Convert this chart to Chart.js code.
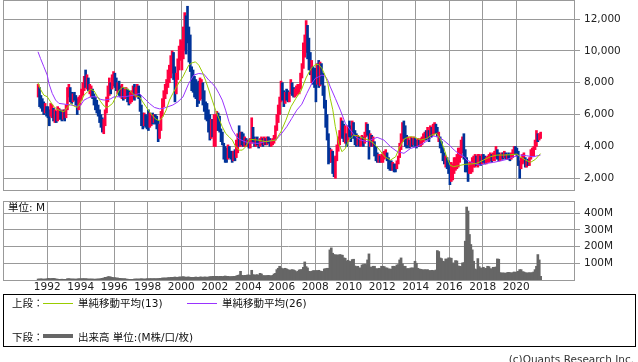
<!DOCTYPE html>
<html lang="ja">
<head>
<meta charset="utf-8">
<title>月足チャート</title>
<script src="https://cdn.jsdelivr.net/npm/chart.js@4.4.1/dist/chart.umd.min.js"></script>
<style>
    html, body { margin: 0; padding: 0; background: #fff; }
    body {
        width: 638px; height: 362px; position: relative; overflow: hidden;
        font-family: "DejaVu Sans", "Noto Sans CJK JP", sans-serif;
        font-size: 10.5px; color: #111;
    }
    .box { position: absolute; left: 0; width: 638px; }
    #priceBox { top: 0; height: 192px; }
    #volumeBox { top: 196px; height: 100px; }
    .txt { position: absolute; white-space: nowrap; line-height: 14px; }
    .swatch { position: absolute; left: 43px; width: 30px; }
    #legend {
        position: absolute; left: 3px; top: 294px; width: 633px; height: 53px;
        box-sizing: border-box; border: 1px solid #000;
    }
</style>
</head>
<body>
<div class="box" id="priceBox"><canvas id="priceChart"></canvas></div>
<div class="box" id="volumeBox"><canvas id="volumeChart"></canvas></div>
<div class="txt" style="left:8px; top:200px;">単位: M</div>

<div id="legend"></div>
<div class="txt" style="left:12px; top:296px;">上段：</div>
<div class="swatch" style="top:303px; height:1px; background:#99cc00;"></div>
<div class="txt" style="left:78px; top:296px;">単純移動平均(13)</div>
<div class="swatch" style="left:187px; top:303px; height:1px; background:#9933ff;"></div>
<div class="txt" style="left:222px; top:296px;">単純移動平均(26)</div>
<div class="txt" style="left:12px; top:330px;">下段：</div>
<div class="swatch" style="top:334px; height:4px; background:#666;"></div>
<div class="txt" style="left:78px; top:330px;">出来高 単位:(M株/口/枚)</div>

<div class="txt" style="right:4px; top:352px; color:#333;">(c)Quants Research Inc.</div>

<script>
// monthly bars, 1991/06 - 2021/06
const startYear = 1991;
const startMonth = 6;

const highs = [
    7900,7700,7200,7000,6800,6700,6500,                               // 1991
    6500,6300,6700,6600,6400,6300,6200,6500,6400,6300,6200,6300,      // 1992
    6300,6600,7700,7900,7700,7400,7300,7400,7200,7000,7100,7200,      // 1993
    7600,8000,8400,8800,8500,8300,7900,7800,7600,7300,7100,6900,      // 1994
    6600,6300,6000,5800,5700,6300,7100,7800,8300,8000,8500,8700,      // 1995
    8600,8300,8000,8100,7800,7900,7700,7600,7700,7600,7500,7400,      // 1996
    7500,7800,7900,7700,7900,7800,7200,6600,6100,6100,6000,5900,      // 1997
    6300,6100,6000,6100,6000,6000,5900,5600,5400,6200,7000,7500,      // 1998
    7900,8200,8800,9100,9700,10000,9900,9000,8600,9500,10300,10700,   // 1999
    10600,11500,12400,12200,12800,11500,11000,9000,8800,8400,8200,8000, // 2000
    8100,8300,8200,8000,7500,6800,6700,6300,6000,5700,5700,6000,      // 2001
    6000,6200,6100,5900,5100,4900,4200,4000,3900,4100,4000,3700,      // 2002
    3700,3700,3800,4400,4800,5300,4900,4900,4800,4600,4500,4400,      // 2003
    4400,4500,5800,5200,4600,4500,4600,4400,4500,4600,4500,4600,      // 2004
    4500,4600,4600,4500,4400,4500,4700,5300,6000,6600,7100,8100,      // 2005
    8000,7500,7400,7600,7500,7400,8200,8000,7700,7600,7800,7900,      // 2006
    7900,8600,9200,10500,11000,11900,11600,10800,9900,9400,9000,8900, // 2007
    8900,9200,9400,9300,9200,8600,7800,6900,6000,4800,3900,3800,      // 2008
    3700,3300,3400,4100,4600,5000,5800,5600,5400,5300,4800,5300,      // 2009
    5600,5300,5600,5500,5000,4800,4700,4600,4500,4700,4600,4900,      // 2010
    5500,5400,5000,4800,4700,4600,4300,4000,3600,3500,3400,3500,      // 2011
    3600,3700,3800,3600,3300,3100,3100,3000,2900,2900,3100,3400,      // 2012
    4200,4800,5500,5600,5300,4700,4600,4400,4600,4500,4600,4500,      // 2013
    4400,4500,4400,4500,4600,4800,4900,5000,5200,5000,5300,5200,      // 2014
    5400,5500,5400,5200,4900,4600,4300,3900,3600,3400,3300,3100,      // 2015
    2700,3000,2900,3300,3300,3500,3900,3900,4400,4600,4800,3800,      // 2016
    3300,2700,3000,3000,3300,3400,3500,3400,3500,3500,3400,3500,      // 2017
    3500,3400,3300,3400,3500,3600,3500,3600,3700,4000,3800,3600,      // 2018
    3500,3600,3600,3700,3600,3500,3600,3500,3600,3800,4000,4000,      // 2019
    3900,3700,3100,3300,3500,3600,3300,3100,3200,3300,3800,3900,      // 2020
    4000,4400,5000,4800,4800,4900                                     // 2021
];

const lows = [
    7100,6500,6400,6200,6000,6100,5900,                               // 1991
    5800,5300,5900,5800,5600,5500,5500,5600,5700,5700,5600,5700,      // 1992
    5600,5800,6300,7100,6800,6700,6800,6900,6600,6000,6300,6600,      // 1993
    6900,7200,7500,7700,7600,7500,7300,7100,7000,6600,6300,6100,      // 1994
    5900,5500,5200,4900,4800,5300,6100,6800,7200,7300,7600,7800,      // 1995
    7700,7500,7300,7200,7100,7000,6900,7000,7100,6800,6600,6700,      // 1996
    6800,7000,6900,7100,7200,7000,6200,5300,5100,5300,5200,5100,      // 1997
    5000,5200,5300,5400,5500,5400,5100,4300,4500,5000,5900,6500,      // 1998
    7000,7300,7700,8000,8300,8600,8200,6800,7300,8200,8800,9400,      // 1999
    8800,9500,10000,9800,10500,9300,8700,7500,7400,7100,7000,6500,    // 2000
    6700,6900,7000,6600,6200,5700,5600,4900,4400,4500,4600,4000,      // 2001
    4000,5000,5000,4900,4300,4100,3200,3000,3000,3200,3300,3200,      // 2002
    3000,3100,3100,3300,3600,4000,4000,4100,4000,4000,4100,4000,      // 2003
    3900,3900,4200,4300,4000,4000,4100,3900,4000,4100,4000,4100,      // 2004
    4100,4100,4200,4000,4000,4100,4200,4400,5000,5500,6000,6800,      // 2005
    6900,6500,6700,6900,6800,6800,7300,7200,7100,7100,7200,7300,      // 2006
    7300,7600,8300,8900,9600,9900,9500,8800,8500,8000,7900,7700,      // 2007
    6800,7900,7700,7800,7900,7200,6400,5200,4400,2900,3000,3000,      // 2008
    2300,2100,2000,3100,3700,4100,4600,4500,4300,4200,4000,4300,      // 2009
    4600,4300,4700,4500,4100,4000,4100,4000,4000,4100,4000,4200,      // 2010
    4600,4700,3200,4000,4000,4000,3400,3100,3000,3000,3000,3000,      // 2011
    3000,3200,3300,3100,2600,2500,2500,2500,2400,2400,2600,2900,      // 2012
    3300,3800,4300,4500,4000,3900,4100,3900,4000,4000,4100,4000,      // 2013
    3900,4000,4000,4000,4100,4300,4400,4400,4500,4300,4600,4600,      // 2014
    4700,4800,4800,4600,4300,3900,3600,3100,2900,2700,2600,2300,      // 2015
    1600,1800,1900,2300,2500,2600,2700,3000,3300,3600,3200,2400,      // 2016
    2400,1800,2300,2300,2400,2700,2700,2800,2700,2900,2800,2900,      // 2017
    3000,2900,2900,3000,3000,3100,3000,3100,3100,3300,3200,3100,      // 2018
    3100,3200,3200,3300,3200,3200,3200,3100,3200,3300,3500,3500,      // 2019
    3400,2800,2000,2600,2900,3000,2700,2700,2800,2800,3200,3400,      // 2020
    3400,3800,4000,4300,4400,4500                                     // 2021
];

// u = 陽線 (close above open), d = 陰線
const moves = [
    "u dddd u d",                 // 1991
    "dd uu d u d uu dd u",        // 1992
    "d uuu dd u ddd uu",          // 1993
    "uuu d u d uu dddd",          // 1994
    "dddd uuuuu d uu",            // 1995
    "dd u dd u d uu dd u",        // 1996
    "uu d uu dddd u dd",          // 1997
    "d uu d u ddd uuuu",          // 1998
    "uuuuuu dd uuuu",             // 1999
    "uuu ddddddddd",              // 2000
    "d uu dddddd u d u",          // 2001
    "uu ddddddd u dd",            // 2002
    "d u d uu d u dd u d u",      // 2003
    "d uu dd u dd uu d u",        // 2004
    "d u dd uuuuuuuu",            // 2005
    "dd u dd uu dd uuu",          // 2006
    "uuuuuu ddd u dd",            // 2007
    "d u d u ddddddd u",          // 2008
    "dd uuuuu dd u d u",          // 2009
    "dd u ddd u d uu d u",        // 2010
    "u dd u d u ddd u d u",       // 2011
    "uuu dddd u dd uu",           // 2012
    "uuu ddd u d u d u d",        // 2013
    "d u d uuuu d u d u d",       // 2014
    "uu dd u dddd u dd",          // 2015
    "d uuuuuuuuu dd",             // 2016
    "dd uuuuu d uu d u",          // 2017
    "dd uuuu d uuu dd",           // 2018
    "uu d u d u dd uuu d",        // 2019
    "ddd uuu d u d uuu",          // 2020
    "uuu d uu"                    // 2021
].join("").replace(/\s/g, "").split("");

// 出来高 (M)
const volumes = [
    6,6,7,6,5,6,6,                                  // 1991
    10,9,8,9,10,8,6,5,4,4,5,4,                      // 1992
    4,4,8,8,7,6,6,6,5,6,8,7,                        // 1993
    8,8,8,8,7,6,6,6,6,5,5,6,                        // 1994
    6,7,8,10,12,16,16,20,20,18,16,14,               // 1995
    14,12,12,10,10,8,8,8,6,5,4,4,                   // 1996
    4,4,6,6,6,6,6,8,6,6,6,8,                        // 1997
    8,8,8,8,8,8,8,8,10,10,12,12,                    // 1998
    12,12,14,14,16,16,16,18,16,16,18,18,            // 1999
    18,20,18,16,18,18,16,16,16,16,18,16,            // 2000
    16,18,18,16,18,18,16,18,20,20,22,22,            // 2001
    22,22,20,22,22,20,22,24,22,22,20,20,            // 2002
    20,22,22,24,28,30,52,28,26,28,28,30,            // 2003
    30,28,58,32,30,30,32,28,40,36,26,26,            // 2004
    26,26,28,26,24,28,36,40,62,70,82,72,            // 2005
    68,66,70,66,62,58,60,62,60,56,48,52,            // 2006
    60,62,62,76,108,80,72,52,50,52,56,56,           // 2007
    56,56,58,54,52,50,66,68,70,70,180,192,          // 2008
    160,152,150,150,148,152,150,148,132,130,112,118, // 2009
    112,110,122,124,84,80,82,72,72,90,92,94,        // 2010
    92,120,156,78,76,82,82,68,66,70,68,82,          // 2011
    82,80,72,72,66,66,64,82,82,80,90,92,            // 2012
    120,132,96,82,82,68,68,68,72,72,72,112,         // 2013
    100,70,66,64,62,60,62,60,62,56,56,58,           // 2014
    56,56,60,176,170,132,128,112,110,126,124,132,   // 2015
    132,130,102,100,116,114,84,82,80,102,104,232,   // 2016
    436,412,272,212,180,112,66,62,128,80,72,70,     // 2017
    76,68,70,82,80,68,66,76,76,78,126,124,          // 2018
    44,42,42,42,40,44,46,44,42,44,48,46,            // 2019
    48,52,62,62,50,48,44,42,42,44,42,44,            // 2020
    48,62,82,152,120,22                             // 2021
];

// 単純移動平均(13)
const ma13Years = [
    1991.45,1991.6,1991.8, 1992.0,1992.2,1992.4,1992.6,1992.8, 1993.0,1993.2,1993.4,1993.6,1993.8,
    1994.0,1994.2,1994.4,1994.6,1994.8, 1995.0,1995.2,1995.4,1995.6,1995.9, 1996.1,1996.3,1996.5,1996.7,1996.9,
    1997.1,1997.3,1997.5,1997.7,1997.9, 1998.1,1998.3,1998.5,1998.7,1998.9, 1999.1,1999.3,1999.5,1999.7,1999.9,
    2000.1,2000.25,2000.45,2000.65,2000.85, 2001.05,2001.25,2001.45,2001.65,2001.85,
    2002.05,2002.25,2002.45,2002.65,2002.85, 2003.05,2003.25,2003.45,2003.65,2003.85,
    2004.05,2004.2,2004.55, 2005.05,2005.65,2005.95, 2006.25,2006.55,2006.85, 2007.15,2007.45,2007.75,
    2008.0,2008.2,2008.4,2008.6,2008.75,2008.9, 2009.05,2009.2,2009.4,2009.6,2009.8,
    2010.0,2010.3,2010.6,2010.9, 2011.2,2011.5,2011.85, 2012.15,2012.5,2012.8,
    2013.05,2013.35,2013.7,2013.95, 2014.3,2014.65,2014.95, 2015.25,2015.45,2015.65,2015.85,
    2016.05,2016.25,2016.55,2016.95, 2017.3,2017.65, 2018.05,2018.45,2018.85, 2019.25,2019.65,
    2020.05,2020.25,2020.55,2020.85, 2021.15,2021.45
];
const ma13Values = [
    7990,7580,7220, 7120,6800,6490,6330,6240, 6180,6450,6700,6530,6450,
    6800,7220,7430,7580,7490, 7120,6800,6530,6450,6700, 7120,7540,7710,7640,7540,
    7330,7160,7120,6800,6490, 6180,5900,5700,5610,5860, 6280,6910,7330,7710,8060,
    8370,8690,9100,9250,9310, 9100,8690,8160,7540,6910,
    6280,5760,5240,4820,4610, 4400,3980,3770,3770,3980,
    4400,4440,4400, 4300,4400,4920, 5650,6490,7020, 7480,8300,8900,
    9130,9150,8900,8430,7960,7000, 6300,5240,4190,3670,3880,
    4400,4710,4650,4500, 4400,4190,3770, 3350,3150,3350,
    3980,4500,4610,4570, 4400,4500,4710, 4820,4500,3980,3350,
    2830,2730,2790,2880, 2900,2940, 3150,3350,3460, 3460,3480,
    3520,3350,3150,3000, 3190,3550
];

// 単純移動平均(26)
const ma26Years = [
    1991.45,1991.6,1991.8, 1992.0,1992.1,1992.3,1992.5,1992.7, 1993.0,1993.4,1993.8,
    1994.0,1994.2,1994.4,1994.6,1994.8, 1995.0,1995.2,1995.4,1995.75, 1996.0,1996.6,
    1997.2,1997.5,1997.7,1997.9, 1998.1,1998.4,1998.7,1998.9, 1999.2,1999.5,1999.8,
    2000.1,2000.45,2000.75, 2001.05,2001.35,2001.65,2001.85,
    2002.05,2002.25,2002.45,2002.65,2002.85, 2003.05,2003.3,2003.5,2003.8,
    2004.0,2004.6, 2005.0,2005.65, 2006.0,2006.3,2006.6,2006.9, 2007.2,2007.5,2007.8,
    2008.0,2008.2,2008.4,2008.6,2008.75,2008.9, 2009.2,2009.5,2009.8, 2010.1,2010.4,2010.7,
    2011.1,2011.4,2011.7, 2012.1,2012.5,2012.9, 2013.3,2013.7, 2014.05,2014.45,2014.75,
    2015.05,2015.35,2015.65, 2016.0,2016.3,2016.6,2016.9, 2017.05,2017.45,2017.85,
    2018.25,2018.65, 2019.05,2019.45,2019.85, 2020.25,2020.6, 2021.0,2021.45
];
const ma26Values = [
    9940,9520,9000, 8480,7960,7330,6910,6700, 6660,6600,6530,
    6600,6910,7020,7120,7120, 7080,6950,6910,6970, 7120,7120,
    7220,7330,7120,6910, 6700,6450,6360,6380, 6490,6600,6800,
    7100,7960,8480, 8580,8540,8160,7960,
    7710,7330,6910,6280,5550, 5030,4610,4440,4300,
    4230,4190, 4300,4400, 4820,5240,5760,6280, 6650,7330,7960,
    8270,8370,8480,8410,8160,7740, 7020,6280,5450, 5030,4610,4400,
    4300,4450,4570, 4400,3980,3670, 3570,3880, 3980,4190,4400,
    4650,4610,4400, 4090,3770,3520,3350, 3150,2940,2830,
    2940,3000, 3090,3190,3350, 3460,3420, 3350,3460
];

const yearTicks = [1992, 1994, 1996, 1998, 2000, 2002, 2004, 2006, 2008, 2010, 2012, 2014, 2016, 2018, 2020];
const priceTicks = [2000, 4000, 6000, 8000, 10000, 12000];
const volumeTicks = [100, 200, 300, 400];

Chart.defaults.font.family = '"DejaVu Sans", "Noto Sans CJK JP", sans-serif';
Chart.defaults.font.size = 10.5;
Chart.defaults.color = "#222";

const GRID = "#999";
const UP = "#ff0040";
const DOWN = "#003399";
const X_MIN = 1989.36, X_MAX = 2023.45;

// centre of each month on a year axis
const monthX = highs.map((_, i) => startYear + (startMonth - 1 + i + 0.5) / 12);

function useTicks(list) {
    return scale => { scale.ticks = list.map(v => ({ value: v })); };
}

// grey box round the plot area
const frame = {
    id: "frame",
    afterDraw(chart) {
        const a = chart.chartArea;
        const ctx = chart.ctx;
        const l = Math.round(a.left), t = Math.round(a.top);
        const r = Math.round(a.right), b = Math.round(a.bottom);
        ctx.save();
        ctx.strokeStyle = GRID;
        ctx.lineWidth = 1;
        ctx.strokeRect(l + 0.5, t + 0.5, r - l, b - t);
        ctx.restore();
    }
};

function xScale(showLabels, height) {
    return {
        type: "linear",
        min: X_MIN,
        max: X_MAX,
        offset: false,
        grid: { color: GRID, drawTicks: false, offset: false },
        border: { display: false },
        ticks: {
            display: showLabels,
            autoSkip: false,
            maxRotation: 0,
            padding: 1,
            callback: v => String(v)
        },
        afterBuildTicks: useTicks(yearTicks),
        afterFit: s => { s.height = height; s.paddingLeft = 0; s.paddingRight = 0; }
    };
}

function yScale(min, max, list, fmt) {
    return {
        position: "right",
        min: min,
        max: max,
        grid: { color: GRID, tickColor: GRID, tickLength: 6 },
        border: { display: false },
        ticks: { padding: 4, callback: fmt },
        afterBuildTicks: useTicks(list),
        afterFit: s => { s.width = 64; s.paddingTop = 0; s.paddingBottom = 0; }
    };
}

new Chart(document.getElementById("priceChart"), {
    type: "bar",
    data: {
        datasets: [
            {
                type: "line",
                label: "単純移動平均(13)",
                data: ma13Years.map((x, i) => ({ x: x, y: ma13Values[i] })),
                borderColor: "#99cc00",
                borderWidth: 1,
                pointRadius: 0,
                order: 0
            },
            {
                type: "line",
                label: "単純移動平均(26)",
                data: ma26Years.map((x, i) => ({ x: x, y: ma26Values[i] })),
                borderColor: "#9933ff",
                borderWidth: 1,
                pointRadius: 0,
                order: 0
            },
            {
                label: "株価",
                data: monthX.map((x, i) => ({ x: x, y: [lows[i], highs[i]] })),
                backgroundColor: monthX.map((_, i) => moves[i] === "u" ? UP : DOWN),
                borderWidth: 0,
                barThickness: 2,
                order: 1
            }
        ]
    },
    options: {
        responsive: true,
        maintainAspectRatio: false,
        animation: false,
        layout: { padding: { left: 3, top: 0, right: 0, bottom: 0 }, autoPadding: false },
        plugins: { legend: { display: false }, tooltip: { enabled: false } },
        scales: {
            x: xScale(false, 2),
            y: yScale(1266, 13193, priceTicks, v => v.toLocaleString("en-US"))
        }
    },
    plugins: [frame]
});

new Chart(document.getElementById("volumeChart"), {
    type: "bar",
    data: {
        datasets: [{
            label: "出来高",
            data: monthX.map((x, i) => ({ x: x, y: volumes[i] })),
            backgroundColor: "#666",
            borderWidth: 0,
            barThickness: 2
        }]
    },
    options: {
        responsive: true,
        maintainAspectRatio: false,
        animation: false,
        layout: { padding: { left: 3, top: 5, right: 0, bottom: 0 }, autoPadding: false },
        plugins: { legend: { display: false }, tooltip: { enabled: false } },
        scales: {
            x: xScale(true, 16),
            y: yScale(0, 472, volumeTicks, v => v + "M")
        }
    },
    plugins: [frame]
});
</script>
</body>
</html>
